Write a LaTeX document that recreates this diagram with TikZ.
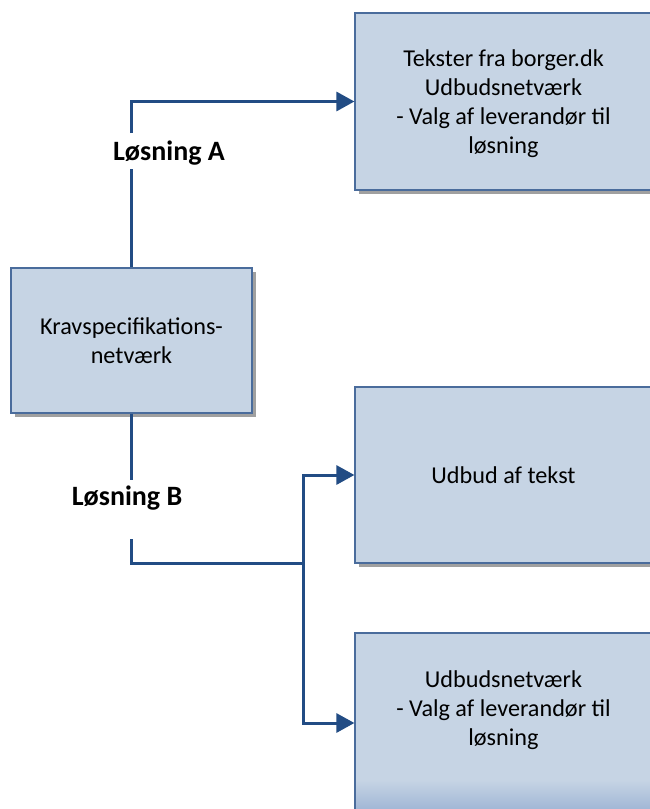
\documentclass[tikz,border=0pt]{standalone}
\usepackage{fontspec}
\setmainfont{Carlito}
\usetikzlibrary{arrows.meta}
\definecolor{boxfill}{RGB}{198,212,228}
\definecolor{boxedge}{RGB}{74,108,156}
\definecolor{linkblue}{RGB}{34,76,132}
\definecolor{shadowgray}{RGB}{160,160,160}
\definecolor{boxdark}{RGB}{160,182,213}
\tikzset{
  stepbox/.style={draw=boxedge, line width=1.2pt, fill=boxfill, rectangle, inner sep=0pt,
    align=center, font=\fontsize{24.2}{29}\selectfont,
    preaction={fill=shadowgray, transform canvas={shift={(3.5pt,-3.5pt)}}}},
  link/.style={draw=linkblue, line width=3pt},
  arrowlink/.style={link, -{Triangle[length=18pt,width=19pt]}},
  lbl/.style={font=\fontsize{28}{34}\selectfont\bfseries, anchor=base, inner sep=0pt},
  txt/.style={font=\fontsize{24.2}{29}\selectfont, align=center, inner sep=0pt}
}
\begin{document}
\begin{tikzpicture}[x=1pt,y=-1pt]
\useasboundingbox (0,0) rectangle (650,809);
\clip (0,0) rectangle (650,809);
\fill[white] (0,0) rectangle (650,809);
% boxes
\node[stepbox, minimum width=297pt, minimum height=177pt] (top) at (503.5,101.5) {};
\node[txt] (toptxt) at (503.5,104)
  {Tekster fra borger.dk\\Udbudsnetværk\\- Valg af leverandør til\\løsning};
\node[stepbox, minimum width=241pt, minimum height=145pt] (krav) at (131.5,340.5)
  {Kravspecifikations-\\netværk};
\node[stepbox, minimum width=297pt, minimum height=176pt] (udbud) at (503.5,475)
  {Udbud af tekst};
\node[stepbox, minimum width=297pt, minimum height=180pt] (bund) at (503.5,723) {};
\shade[top color=boxfill, bottom color=boxdark] (356,780) rectangle (650,810);
\draw[draw=boxedge, line width=1.2pt] (bund.north west) -- (bund.south west);
\node[txt] (bundtxt) at (503.5,710) {Udbudsnetværk\\- Valg af leverandør til\\løsning};
% labels
\node[lbl] (la) at (169,160) {Løsning A};
\node[lbl] (lb) at (127,505) {Løsning B};
% connectors
\coordinate (a1) at (131,133);
\coordinate (a2) at (131,169);
\coordinate (b1) at (131,480);
\coordinate (b2) at (131,539);
\coordinate (j) at (303,563);
\draw[link] (krav.north -| a1) -- (a2);
\draw[arrowlink] (a1) |- (top.west);
\draw[link] (krav.south -| b1) -- (b1);
\draw[link] (b2) |- (j);
\draw[arrowlink] (j) |- (udbud.west);
\draw[arrowlink] (j) |- (bund.west);
\end{tikzpicture}
\end{document}
